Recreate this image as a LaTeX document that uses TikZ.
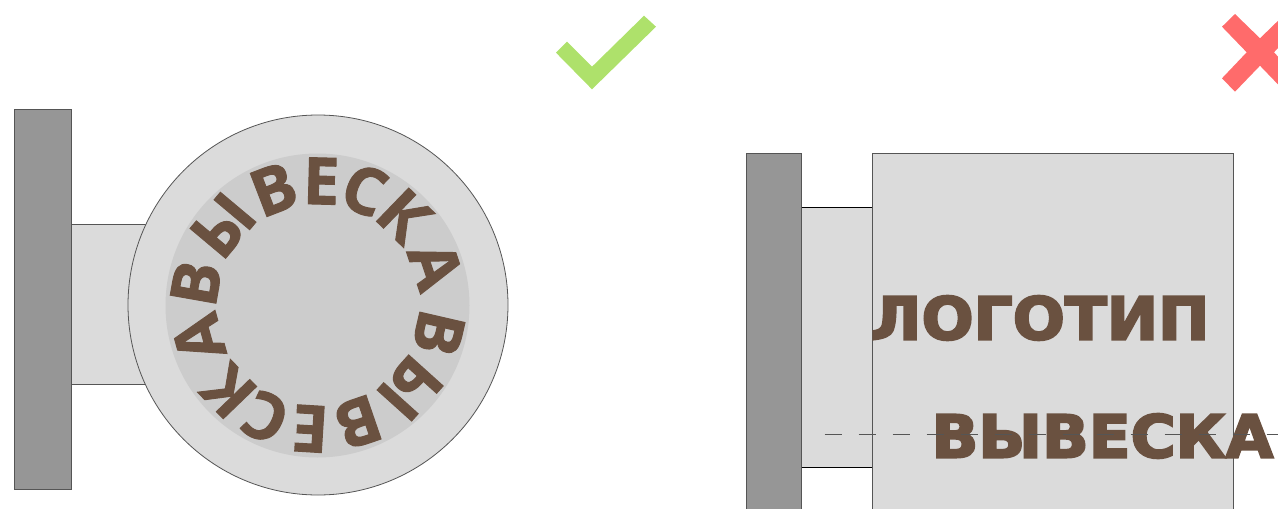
\documentclass[tikz,border=0pt]{standalone}
\usepackage{fontspec}
\setmainfont{Open Sans}
\newfontfamily\ringfont{Open Sans Bold}[FakeBold=1.5]
\newfontfamily\heavyfont{DejaVu Sans Bold}[FakeBold=3.5]
\definecolor{wallgray}{HTML}{969696}
\definecolor{panel}{HTML}{DBDBDB}
\definecolor{innerring}{HTML}{CCCCCC}
\definecolor{brownink}{HTML}{6A5140}
\definecolor{okgreen}{HTML}{AEE16B}
\definecolor{badred}{HTML}{FF6B6B}
\definecolor{edge}{HTML}{555555}
\tikzset{
  wall/.style={fill=wallgray,draw=edge,line width=0.8pt},
  body/.style={fill=panel,draw=edge,line width=0.8pt},
  ringletter/.style={inner sep=0pt,text=brownink,font=\fontsize{65}{65}\selectfont\ringfont},
  flatlabel/.style={inner sep=0pt,text=brownink,font=\fontsize{59}{59}\selectfont\heavyfont},
  axisline/.style={draw=edge,line width=0.7pt,dash pattern=on 17pt off 17pt}
}
\newcommand{\ringchar}[3]{\node[ringletter,rotate=-#1] (#3) at ({318+124*sin(#1)},{305-124*cos(#1)}) {#2};}
\begin{document}
\begin{tikzpicture}[x=1pt,y=-1pt]
\useasboundingbox (0,0) rectangle (1278,509);
\clip (0,0) rectangle (1278,509);
% check and cross
\fill[okgreen] (556,52.7) -- (567,41.7) -- (592,66.7) -- (644,15.7) -- (656,26.7) -- (592,89.3) -- cycle;
\fill[badred] (1235,14) -- (1260,38.3) -- (1285,14) -- (1298,26.7) -- (1274,52.3) -- (1298,78.3) -- (1285,91.7) -- (1260,65.7) -- (1235,91.7) -- (1222,78.3) -- (1246.7,52.3) -- (1222,26.7) -- cycle;
% left sign
\path[wall] (14.5,109.5) rectangle (71.5,489);
\path[fill=panel] (71.5,224.5) rectangle (160,384);
\draw[edge,line width=0.7pt] (71.5,224.5) -- (160,224.5) (71.5,384) -- (160,384);
\path[body] (318,305) circle (190);
\fill[innerring] (317.5,305.5) circle (152);
\ringchar{-80}{В}{la}
\ringchar{-50}{Ы}{lb}
\ringchar{-21}{В}{lc}
\ringchar{1.5}{Е}{ld}
\ringchar{22}{С}{le}
\ringchar{44}{К}{lf}
\ringchar{71.5}{А}{lg}
\ringchar{103}{В}{lh}
\ringchar{132}{Ы}{li}
\ringchar{161}{В}{lj}
\ringchar{183.5}{Е}{lk}
\ringchar{205}{С}{ll}
\ringchar{226}{К}{lm}
\ringchar{254.5}{А}{ln}
% right sign
\path[wall] (746,153) rectangle (801.5,520);
\path[fill=panel] (801.5,207.5) rectangle (872.5,467.5);
\draw[black,line width=0.8pt] (801.5,207.5) -- (872.5,207.5) (801.5,467.5) -- (872.5,467.5);
\path[body] (872.5,153) rectangle (1233,520);
\node[flatlabel,xscale=1.04] (logo) at (1040,318) {ЛОГОТИП};
\node[flatlabel,xscale=1.04] (sign) at (1102.5,436) {ВЫВЕСКА};
\coordinate (axisA) at (824.5,434.5);
\coordinate (axisB) at (1278,434.5);
\draw[axisline] (axisA) -- (axisB);
\end{tikzpicture}
\end{document}
